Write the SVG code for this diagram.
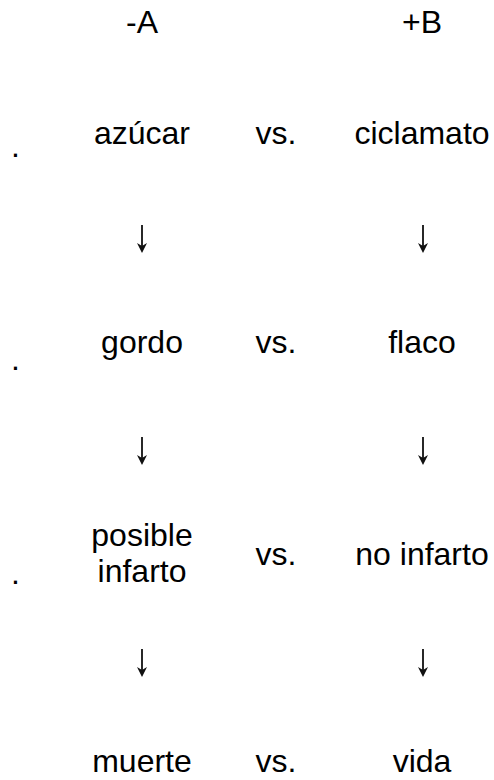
<svg xmlns="http://www.w3.org/2000/svg" width="494" height="780" viewBox="0 0 494 780">
  <style>
    text { font-family: "Liberation Sans", Arial, sans-serif; font-size: 32px; fill: #000; text-anchor: middle; }
    .mark { text-anchor: start; }
    .link { stroke: #111; stroke-width: 1.8; fill: none; marker-end: url(#head); }
  </style>
  <defs>
    <marker id="head" markerUnits="userSpaceOnUse" markerWidth="10" markerHeight="10" refX="6" refY="5" orient="auto">
      <path d="M0,0 L10,5 L0,10 L3,5 Z" fill="#111"/>
    </marker>
  </defs>
  <rect width="494" height="780" fill="#fff"/>

  <!-- column headers -->
  <g id="head-a"><text x="142" y="33">-A</text></g>
  <g id="head-b"><text x="422" y="33">+B</text></g>

  <!-- row 1 -->
  <g id="row1-mark"><text class="mark" x="11" y="157">.</text></g>
  <g id="azucar"><text x="142" y="144">azúcar</text></g>
  <g id="vs1"><text x="276" y="144">vs.</text></g>
  <g id="ciclamato"><text x="422" y="144">ciclamato</text></g>

  <!-- row 2 -->
  <g id="row2-mark"><text class="mark" x="11" y="370">.</text></g>
  <g id="gordo"><text x="142" y="353">gordo</text></g>
  <g id="vs2"><text x="276" y="353">vs.</text></g>
  <g id="flaco"><text x="422" y="353">flaco</text></g>

  <!-- row 3 -->
  <g id="row3-mark"><text class="mark" x="11" y="584">.</text></g>
  <g id="posible-infarto">
    <text x="142" y="546">posible</text>
    <text x="142" y="582">infarto</text>
  </g>
  <g id="vs3"><text x="276" y="565">vs.</text></g>
  <g id="no-infarto"><text x="422" y="565">no infarto</text></g>

  <!-- row 4 -->
  <g id="muerte"><text x="142" y="772">muerte</text></g>
  <g id="vs4"><text x="276" y="772">vs.</text></g>
  <g id="vida"><text x="422" y="772">vida</text></g>

  <!-- connectors: downward arrows between rows -->
  <g id="connectors">
    <line class="link" x1="142" y1="225" x2="142" y2="249"/>
    <line class="link" x1="423" y1="225" x2="423" y2="249"/>
    <line class="link" x1="142" y1="437" x2="142" y2="461"/>
    <line class="link" x1="423" y1="437" x2="423" y2="461"/>
    <line class="link" x1="142" y1="649" x2="142" y2="673"/>
    <line class="link" x1="423" y1="649" x2="423" y2="673"/>
  </g>
</svg>
